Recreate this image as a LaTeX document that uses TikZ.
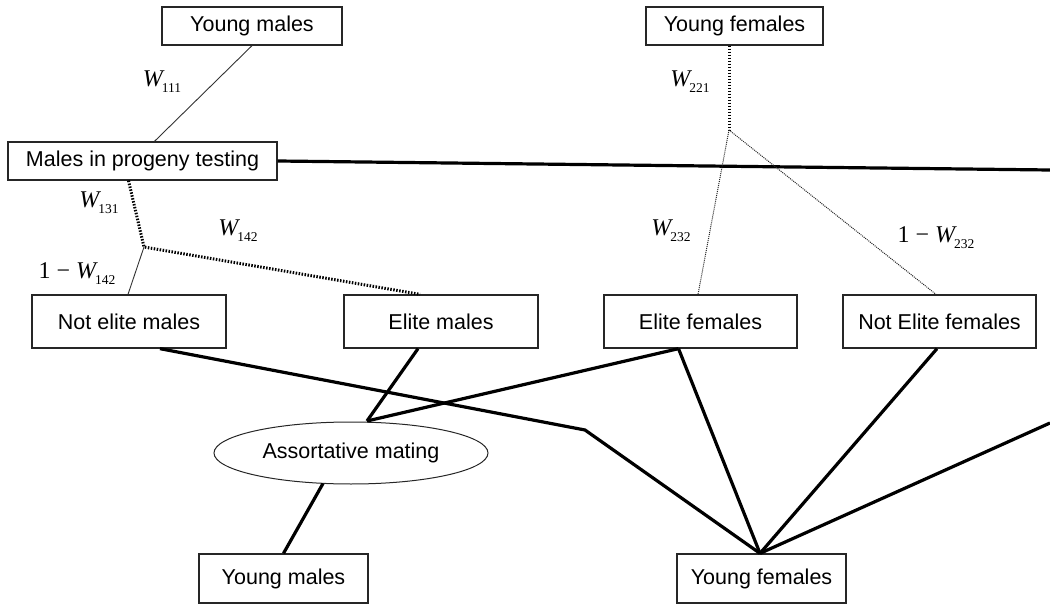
\documentclass[tikz,border=0pt]{standalone}
\usepackage{fontspec}
\setmainfont{Liberation Sans}
\newfontfamily\tms{Liberation Serif}
\usetikzlibrary{shapes.geometric}
\newcommand{\Wlab}[1]{{\fontsize{24}{24}\selectfont\tms\itshape W}\kern-1pt\raisebox{-6pt}{\fontsize{13.5}{13.5}\selectfont\tms #1}}
\newcommand{\OneMinus}{{\fontsize{24}{24}\selectfont\tms 1 − }}
\begin{document}
\begin{tikzpicture}[x=1pt,y=-1pt,
  box/.style={draw=black!85,line width=1.3pt,rectangle,inner sep=0pt,font=\fontsize{21.5}{21.5}\selectfont},
  ell/.style={draw=black!85,line width=1pt,ellipse,inner sep=0pt,font=\fontsize{21.5}{21.5}\selectfont},
  thinln/.style={line width=0.9pt,black!80},
  thickln/.style={line width=3.2pt,black},
  dotthick/.style={line width=3pt,black,dash pattern=on 1.5pt off 1.5pt},
  dotthin/.style={line width=1pt,black!85,dash pattern=on 1pt off 1pt},
  lab/.style={inner sep=0pt}]
\useasboundingbox (0,0) rectangle (1050,604);

% nodes
\node[box,minimum width=180pt,minimum height=38pt] (ym1) at (252,26) {Young males};
\node[box,minimum width=269pt,minimum height=38pt] (mpt) at (142.5,161) {Males in progeny testing};
\node[box,minimum width=177pt,minimum height=38pt] (yf1) at (734.5,26) {Young females};
\node[box,minimum width=194pt,minimum height=53pt] (nem) at (129,321.5) {Not elite males};
\node[box,minimum width=194pt,minimum height=53pt] (em) at (441,321.5) {Elite males};
\node[box,minimum width=193pt,minimum height=53pt] (ef) at (700.5,321.5) {Elite females};
\node[box,minimum width=193pt,minimum height=53pt] (nef) at (939.5,321.5) {Not Elite females};
\node[ell,minimum width=274pt,minimum height=62pt] (am) at (351,453) {Assortative mating};
\node[box,minimum width=169pt,minimum height=49pt] (ym2) at (283.5,578.5) {Young males};
\node[box,minimum width=169pt,minimum height=49pt] (yf2) at (761.5,578.5) {Young females};

% helper coordinates
\coordinate (rE) at (1050,170);
\coordinate (rE2) at (1050,423);
\coordinate (j1) at (144,247);
\coordinate (j2) at (729,130);
\coordinate (j3) at (367,421);
\coordinate (k) at (585,430);

% upper connectors
\draw[thinln] (ym1.south) -- ([xshift=12pt]mpt.north);
\draw[thickln] (mpt.east) -- (rE);
\draw[dotthick] ([xshift=-14pt]mpt.south) -- (j1) -- ([xshift=-21pt]em.north);
\draw[thinln] (j1) -- ([xshift=-1pt]nem.north);
\draw[dotthick] ([xshift=-5.5pt]yf1.south) -- (j2);
\draw[dotthin] (j2) -- ([xshift=-2.5pt]ef.north);
\draw[dotthin] (j2) -- ([xshift=-3.5pt]nef.north);

% lower connectors
\draw[thickln] ([xshift=31pt]nem.south) -- (k) -- ([xshift=-1.5pt]yf2.north);
\draw[thickln] ([xshift=-23pt]em.south) -- (j3);
\draw[thickln] ([xshift=-22pt]ef.south) -- (j3);
\draw[thickln] ([xshift=-22pt]ef.south) -- ([xshift=-1.5pt]yf2.north);
\draw[thickln] ([xshift=-2.5pt]nef.south) -- ([xshift=-1.5pt]yf2.north);
\draw[thickln] (rE2) -- ([xshift=-1.5pt]yf2.north);
\draw[thickln] ([xshift=-28pt,yshift=1pt]am.south) -- (ym2.north);

% labels
\node[lab] (l111) at (162,82) {\Wlab{111}};
\node[lab] (l131) at (99,203) {\Wlab{131}};
\node[lab] (l142) at (238,231) {\Wlab{142}};
\node[lab] (l142b) at (77,274) {\OneMinus\Wlab{142}};
\node[lab] (l221) at (690,82) {\Wlab{221}};
\node[lab] (l232) at (671,231) {\Wlab{232}};
\node[lab] (l232b) at (936,238) {\OneMinus\Wlab{232}};
\end{tikzpicture}
\end{document}
